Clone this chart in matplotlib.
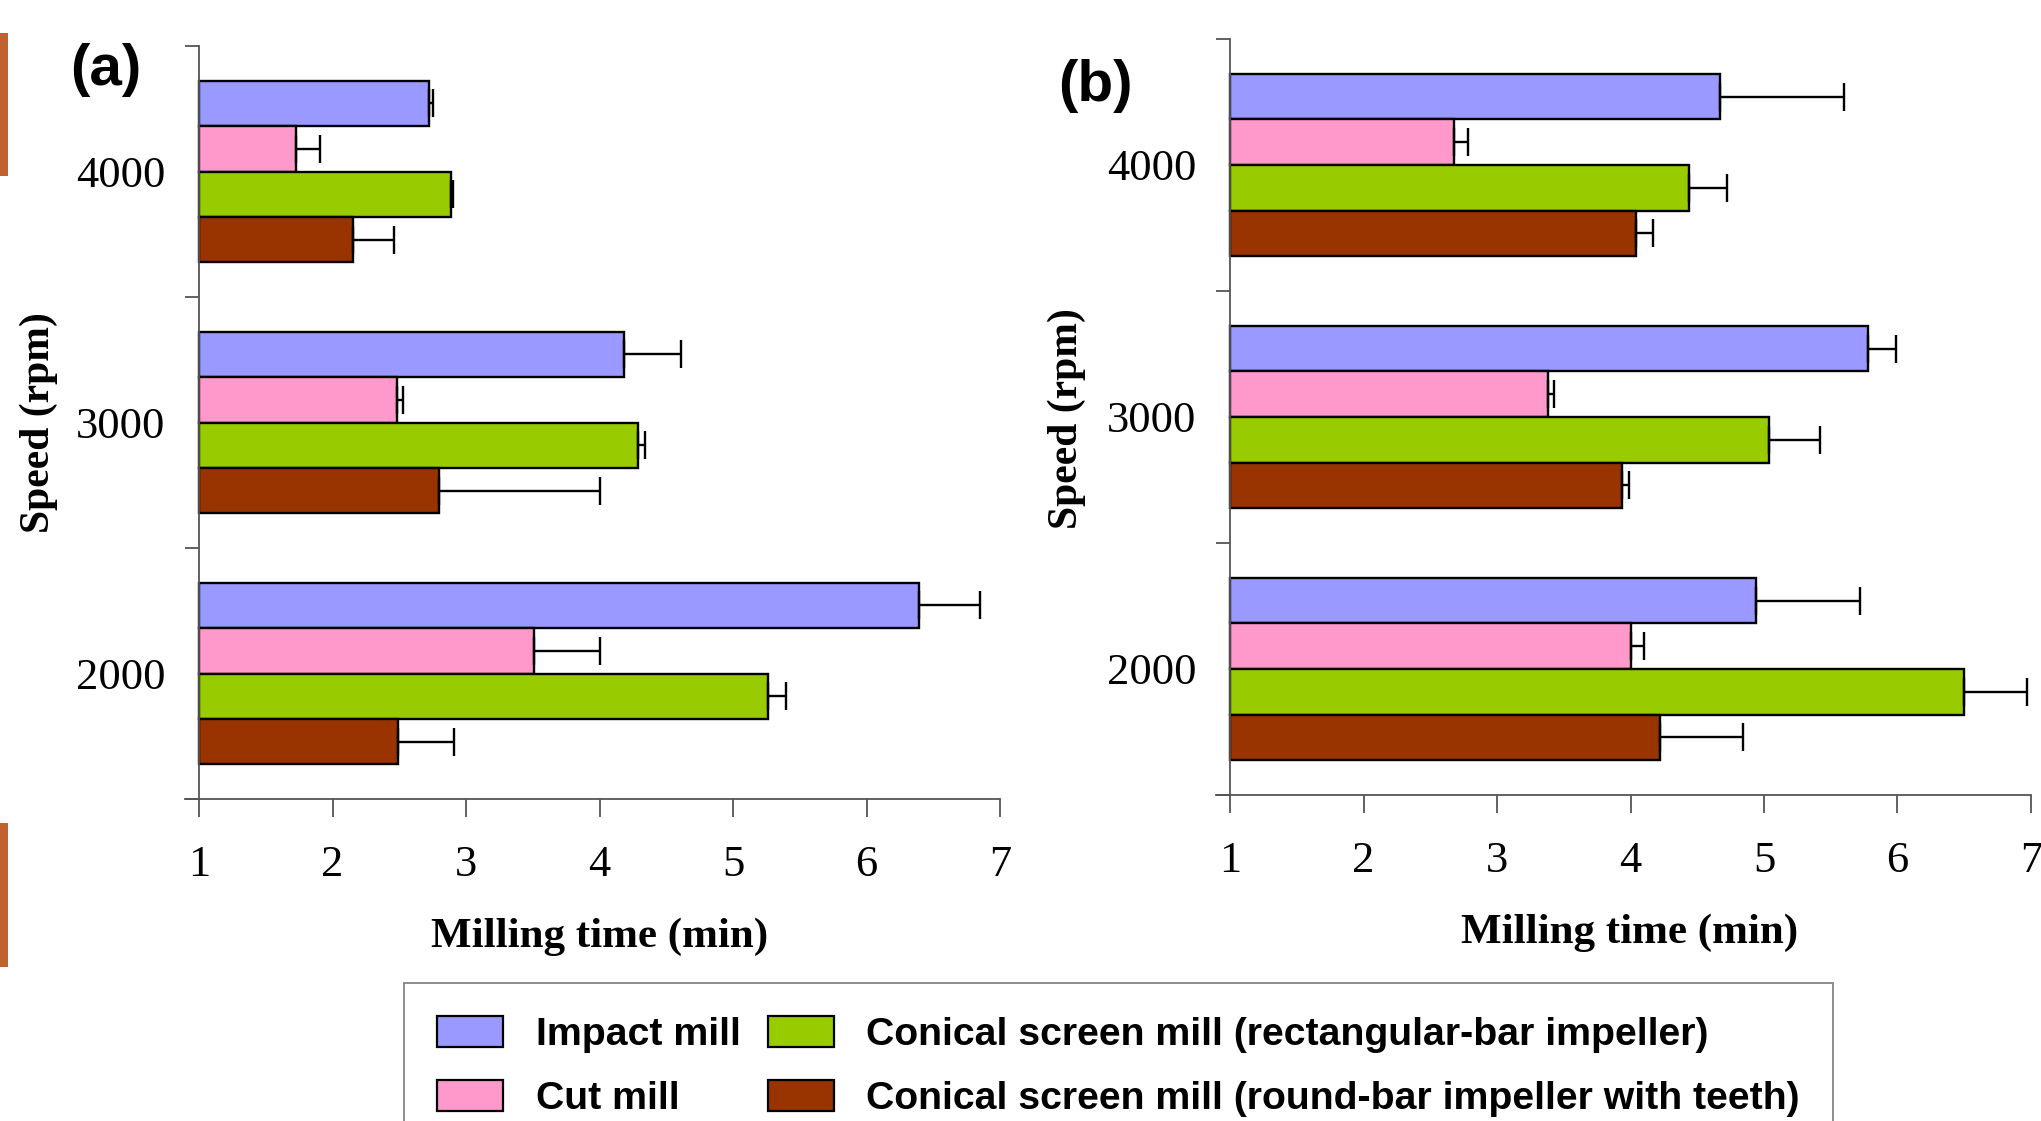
import matplotlib
matplotlib.use("Agg")
import matplotlib.pyplot as plt
import numpy as np
from matplotlib.patches import Rectangle, Patch

speeds = ["2000", "3000", "4000"]
series = ["Impact mill", "Cut mill",
          "Conical screen mill (rectangular-bar impeller)",
          "Conical screen mill (round-bar impeller with teeth)"]
colors = ["#9999FF", "#FF99CC", "#99CC00", "#993300"]

# values ordered by speeds (2000, 3000, 4000)
a_impact = [6.39, 4.18, 2.72]
a_cut = [3.51, 2.48, 1.73]
a_rect = [5.26, 4.29, 2.89]
a_round = [2.49, 2.80, 2.15]
a_impact_err = [0.46, 0.43, 0.03]
a_cut_err = [0.49, 0.05, 0.18]
a_rect_err = [0.14, 0.05, 0.01]
a_round_err = [0.42, 1.20, 0.31]

b_impact = [4.94, 5.78, 4.67]
b_cut = [4.00, 3.38, 2.68]
b_rect = [6.50, 5.04, 4.44]
b_round = [4.22, 3.94, 4.04]
b_impact_err = [0.78, 0.21, 0.93]
b_cut_err = [0.10, 0.05, 0.10]
b_rect_err = [0.47, 0.38, 0.28]
b_round_err = [0.62, 0.05, 0.13]

xticks = [1, 2, 3, 4, 5, 6, 7]

W, H = 2041, 1121
fig = plt.figure(figsize=(W / 100, H / 100), dpi=100)

serif = ["Liberation Serif", "DejaVu Serif"]
sans = ["Liberation Sans", "DejaVu Sans"]

overhang = 0.105  # x-axis spine overhang to the left (data units)


def panel(rect_px, vals, errs, letter, letter_pos, ylab_x, xlab_pos):
    l, t, r, b = rect_px
    unit = (r - l) / 6.0
    l2 = l - overhang * unit
    ax = fig.add_axes([l2 / W, 1 - b / H, (r - l2) / W, (b - t) / H])
    y = np.arange(len(speeds))
    h = 0.181
    offs = [1.5 * h, 0.5 * h, -0.5 * h, -1.5 * h]
    for v, e, c, o, name in zip(vals, errs, colors, offs, series):
        ax.barh(y + o, np.array(v) - 1, left=1, height=h, color=c,
                edgecolor="black", linewidth=1.7, label=name, zorder=2)
        ax.errorbar(np.array(v), y + o, xerr=[np.zeros(len(e)), e],
                    fmt="none", ecolor="black", elinewidth=1.7,
                    capsize=10, capthick=1.7, zorder=3)
    ax.set_xlim(1 - overhang, 7)
    ax.set_ylim(-0.5, 2.5)
    for s in ["top", "right"]:
        ax.spines[s].set_visible(False)
    ax.spines["left"].set_position(("data", 1))
    ax.spines["left"].set_color("#555555")
    ax.spines["bottom"].set_color("#555555")
    ax.spines["left"].set_linewidth(1.3)
    ax.spines["bottom"].set_linewidth(1.3)
    ax.set_xticks(xticks)
    ax.set_xticklabels([str(v) for v in xticks], fontfamily=serif, fontsize=32)
    ax.tick_params(axis="x", direction="out", length=13, width=1.3,
                   color="#555555", pad=20)
    ax.set_yticks(y)
    ax.set_yticklabels(speeds, fontfamily=serif, fontsize=32)
    ax.tick_params(axis="y", which="major", length=0, pad=24)
    ax.set_yticks([-0.5, 0.5, 1.5, 2.5], minor=True)
    ax.tick_params(axis="y", which="minor", direction="out", length=10,
                   width=1.3, color="#555555")
    fig.text(letter_pos[0] / W, 1 - letter_pos[1] / H, letter,
             fontfamily=sans, fontweight="bold", fontsize=42,
             ha="center", va="center")
    fig.text(ylab_x[0] / W, 1 - ylab_x[1] / H, "Speed (rpm)",
             fontfamily=serif, fontweight="bold", fontsize=30,
             rotation=90, ha="center", va="center")
    fig.text(xlab_pos[0] / W, 1 - xlab_pos[1] / H, "Milling time (min)",
             fontfamily=serif, fontweight="bold", fontsize=31,
             ha="center", va="center")
    return ax


ax_a = panel((199, 46, 1000, 799),
             [a_impact, a_cut, a_rect, a_round],
             [a_impact_err, a_cut_err, a_rect_err, a_round_err],
             "(a)", (106, 70), (39, 423), (600, 937))
ax_b = panel((1230, 39, 2031, 795),
             [b_impact, b_cut, b_rect, b_round],
             [b_impact_err, b_cut_err, b_rect_err, b_round_err],
             "(b)", (1095, 86), (1067, 419), (1630, 933))

# legend
handles = [Patch(facecolor=c, edgecolor="black", linewidth=1.6) for c in colors]
leg = fig.legend(handles, series, ncol=2, loc="upper left",
                 bbox_to_anchor=(404 / W, 1 - 983 / H),
                 prop={"family": sans, "weight": "bold", "size": 28.3},
                 frameon=True, fancybox=False, edgecolor="#666666",
                 handlelength=1.67, handleheight=0.83, handletextpad=0.83,
                 columnspacing=0.7, labelspacing=0.68, borderpad=0.85,
                 borderaxespad=0)
leg.get_frame().set_linewidth(1.3)

# brown strips at left edge (cropped artefacts of the original figure)
for y0, y1 in [(33, 176), (823, 967)]:
    fig.patches.append(Rectangle((0, 1 - y1 / H), 8 / W, (y1 - y0) / H,
                                 transform=fig.transFigure,
                                 facecolor="#C0622F", edgecolor="none"))

fig.savefig("out.png", dpi=100)
